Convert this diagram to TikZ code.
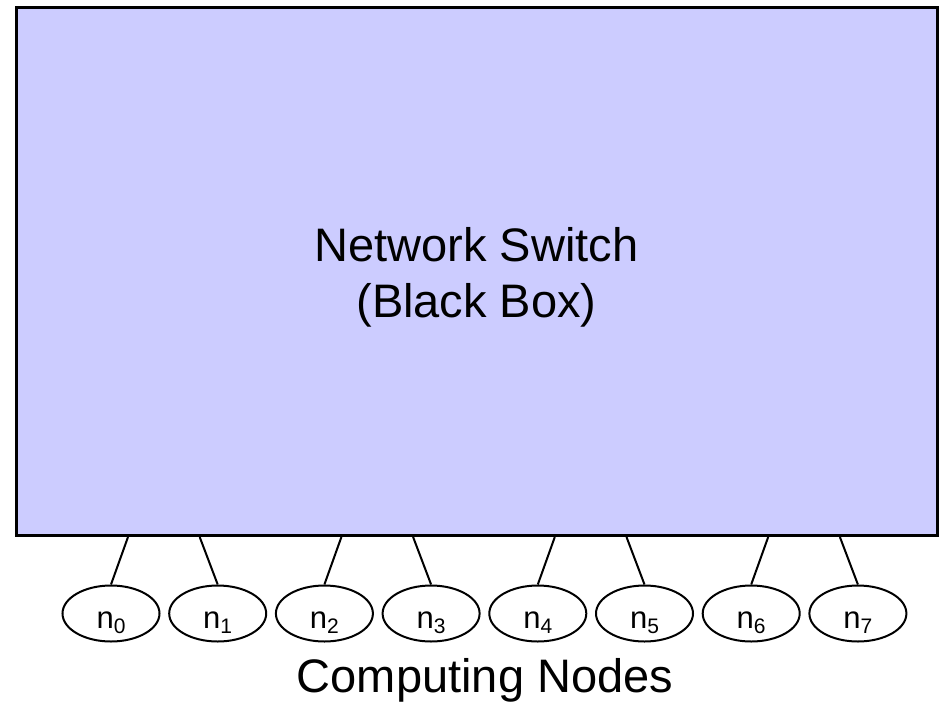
\documentclass[tikz,border=0pt]{standalone}
\usepackage{fontspec}
\setmainfont{Liberation Sans}
\usetikzlibrary{shapes.geometric,calc}
\definecolor{switchfill}{HTML}{CCCCFF}
\tikzset{
  switchbox/.style={draw=black, fill=switchfill, line width=3pt, inner sep=0pt,
    minimum width=920.5pt, minimum height=528.5pt},
  bigtext/.style={anchor=base, inner sep=0pt, font=\fontsize{47}{56}\selectfont},
  compnode/.style={draw=black, line width=2pt, ellipse, inner sep=0pt,
    minimum width=97pt, minimum height=56pt, text height=29pt, text depth=0pt,
    font=\fontsize{31}{36}\selectfont},
  link/.style={draw=black, line width=2pt}
}
\newcommand{\nodelabel}[1]{n\raisebox{-5pt}{\fontsize{21}{24}\selectfont #1}}
\begin{document}
\begin{tikzpicture}[x=1pt, y=-1pt]
  \useasboundingbox (0,0) rectangle (943,705);
  % the switch
  \node[switchbox] (switch) at (476.75,271.25) {};
  \node[bigtext] (title) at (476.5,261) {Network Switch};
  \node[bigtext] (subtitle) at (476.5,317) {(Black Box)};
  % computing nodes and their links
  \foreach \i in {0,...,7} {
    \pgfmathsetmacro{\cx}{111+106.7*\i}
    \pgfmathsetmacro{\dx}{ifthenelse(mod(\i,2)==0,17,-18)}
    \node[compnode] (n\i) at (\cx,613.5) {\nodelabel{\i}};
    \draw[link] ($(n\i.north |- switch.south)+(\dx,0)$) -- (n\i.north);
  }
  \node[bigtext] (caption) at (485,692) {Computing Nodes};
\end{tikzpicture}
\end{document}
